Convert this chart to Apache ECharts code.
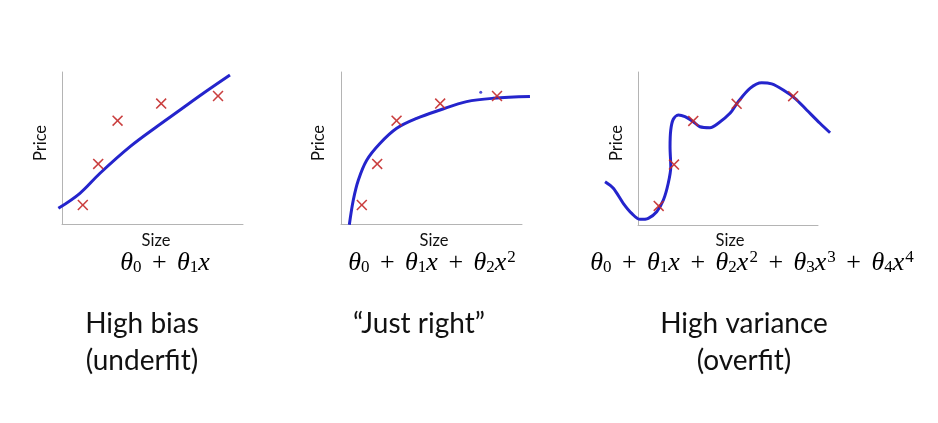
<!DOCTYPE html>
<html><head><meta charset="utf-8">
<script src="https://cdn.jsdelivr.net/npm/echarts@6/dist/echarts.min.js"></script>
<style>html,body{margin:0;padding:0;background:#fff}#c{width:938px;height:423px}</style>
</head><body><div id="c"></div>
<script>
// Training data (same five houses in every panel): size vs price, axis units 0..10
const sizes  = [1.15, 2.0, 3.07, 5.48, 8.62];
const prices = [1.25, 3.95, 6.8, 7.92, 8.42];

// Hand-drawn fitted curves
const fit1X = [-0.2, 0.99, 2.1, 3.76, 5.23, 6.52, 7.81, 9.28];
const fit1Y = [1.03, 2.02, 3.34, 5.09, 6.4, 7.5, 8.6, 9.8];

const fit2X = [0.46, 0.68, 0.96, 1.42, 2.15, 3.08, 4.18, 5.47, 6.94, 8.41, 10.44];
const fit2Y = [-0.05, 1.58, 2.9, 4.2, 5.3, 6.3, 6.95, 7.5, 8.05, 8.27, 8.38];

const fit3X = [-1.83, -1.37, -0.82, -0.35, 0.11, 0.57, 1.04, 1.41, 1.68, 1.82, 1.78, 1.82, 1.96, 2.24, 2.61, 3.07, 3.44, 4.0, 4.46, 5.11, 5.57, 6.22, 6.87, 7.43, 8.07, 8.72, 9.37, 10.11, 10.67];
const fit3Y = [2.83, 2.40, 1.42, 0.76, 0.37, 0.44, 0.87, 1.63, 2.73, 3.81, 5.12, 6.21, 6.91, 7.19, 7.08, 6.75, 6.42, 6.36, 6.65, 7.3, 8.06, 8.93, 9.3, 9.22, 8.82, 8.28, 7.52, 6.65, 6.03];

const strayX = [7.72], strayY = [8.66];

const titlesTop = ['High bias', '\u201cJust right\u201d', 'High variance'];
const titlesBottom = ['(underfit)', '', '(overfit)'];
const axisNameX = 'Size', axisNameY = 'Price';

const zip = (a, b) => a.map((v, i) => [v, b[i]]);
// visible axes: 0..10 in both directions
const grids = [
  {left: 62, top: 72, width: 181, height: 152},
  {left: 341, top: 72, width: 181, height: 152},
  {left: 638, top: 72, width: 180, height: 153}
];
// wider, invisible frames with the same scale so the hand-drawn curves may run past the axes
const XMIN = -3, XMAX = 12, YMIN = -2, YMAX = 12;
const wideGrids = grids.map(g => {
  const ux = g.width / 10, uy = g.height / 10;
  return {left: g.left + XMIN * ux, top: g.top - (YMAX - 10) * uy, width: (XMAX - XMIN) * ux, height: (YMAX - YMIN) * uy};
});
const axisLine = {show: true, lineStyle: {color: '#b4b4b4', width: 1}};
const hidden = {axisLine: {show: false}, axisTick: {show: false}, axisLabel: {show: false}, splitLine: {show: false}};
const xAxes = [], yAxes = [];
grids.forEach((g, i) => {
  xAxes.push({gridIndex: i, type: 'value', min: 0, max: 10, axisLine: axisLine, axisTick: {show: false}, axisLabel: {show: false}, splitLine: {show: false}});
  yAxes.push({gridIndex: i, type: 'value', min: 0, max: 10, axisLine: axisLine, axisTick: {show: false}, axisLabel: {show: false}, splitLine: {show: false}});
});
wideGrids.forEach((g, i) => {
  xAxes.push(Object.assign({gridIndex: 3 + i, type: 'value', min: XMIN, max: XMAX}, hidden));
  yAxes.push(Object.assign({gridIndex: 3 + i, type: 'value', min: YMIN, max: YMAX}, hidden));
});

const cross = 'path://M0,1L1,0L5,4L9,0L10,1L6,5L10,9L9,10L5,6L1,10L0,9L4,5Z';
const BLUE = '#2424cc', RED = '#c42a2a';
const fits = [[fit1X, fit1Y, 0.35], [fit2X, fit2Y, 0.35], [fit3X, fit3Y, 0.3]];
const series = [];
fits.forEach((f, i) => {
  series.push({type: 'line', xAxisIndex: 3 + i, yAxisIndex: 3 + i, data: zip(f[0], f[1]), smooth: f[2], symbol: 'none', lineStyle: {color: BLUE, width: 3}, z: 2});
  series.push({type: 'scatter', xAxisIndex: i, yAxisIndex: i, data: zip(sizes, prices), symbol: cross, symbolSize: 11, clip: false, itemStyle: {color: RED, opacity: 0.9}, z: 3});
});
series.push({type: 'scatter', xAxisIndex: 1, yAxisIndex: 1, data: zip(strayX, strayY), symbol: 'circle', symbolSize: 3, itemStyle: {color: BLUE}, z: 3});

const lab = {fontFamily: 'Lato, "Open Sans", sans-serif', fill: '#111'};
const math = 'Liberation Serif, DejaVu Serif, serif';
const rich = {
  i: {fontFamily: math, fontStyle: 'italic', fontSize: 26, color: '#222'},
  pl: {fontFamily: math, fontSize: 26, color: '#222', padding: [0, 4, 0, 4]},
  s: {fontFamily: math, fontSize: 17, color: '#222', padding: [10, 0, 0, 0]},
  p: {fontFamily: math, fontSize: 17, color: '#222', padding: [0, 0, 11, 1]}
};
const formulas = [
  '{i|θ}{s|0}{pl| + }{i|θ}{s|1}{i|x}',
  '{i|θ}{s|0}{pl| + }{i|θ}{s|1}{i|x}{pl| + }{i|θ}{s|2}{i|x}{p|2}',
  '{i|θ}{s|0}{pl| + }{i|θ}{s|1}{i|x}{pl| + }{i|θ}{s|2}{i|x}{p|2}{pl| + }{i|θ}{s|3}{i|x}{p|3}{pl| + }{i|θ}{s|4}{i|x}{p|4}'
];
const sizeX = [156, 434, 730], priceX = [41, 319, 617], formulaX = [165, 432, 752];
const titleX = [142, 419, 744];
const graphic = [];
for (let i = 0; i < 3; i++) {
  graphic.push({type: 'text', x: sizeX[i], y: 241, style: Object.assign({text: axisNameX, fontSize: 16.5, align: 'center', verticalAlign: 'middle'}, lab)});
  graphic.push({type: 'text', x: priceX[i], y: 143, rotation: Math.PI / 2, style: Object.assign({text: axisNameY, fontSize: 16.5, align: 'center', verticalAlign: 'middle'}, lab)});
  graphic.push({type: 'text', x: formulaX[i], y: 263, style: {text: formulas[i], rich: rich, align: 'center', verticalAlign: 'middle'}});
  graphic.push({type: 'text', x: titleX[i], y: 324, style: Object.assign({text: titlesTop[i], fontSize: 28, align: 'center', verticalAlign: 'middle'}, lab)});
  if (titlesBottom[i]) graphic.push({type: 'text', x: titleX[i], y: 361, style: Object.assign({text: titlesBottom[i], fontSize: 28, align: 'center', verticalAlign: 'middle'}, lab)});
}

const chart = echarts.init(document.getElementById('c'), null, {renderer: 'canvas'});
chart.setOption({
  animation: false,
  backgroundColor: '#fff',
  grid: grids.concat(wideGrids),
  xAxis: xAxes,
  yAxis: yAxes,
  series: series,
  graphic: graphic
});
</script></body></html>
